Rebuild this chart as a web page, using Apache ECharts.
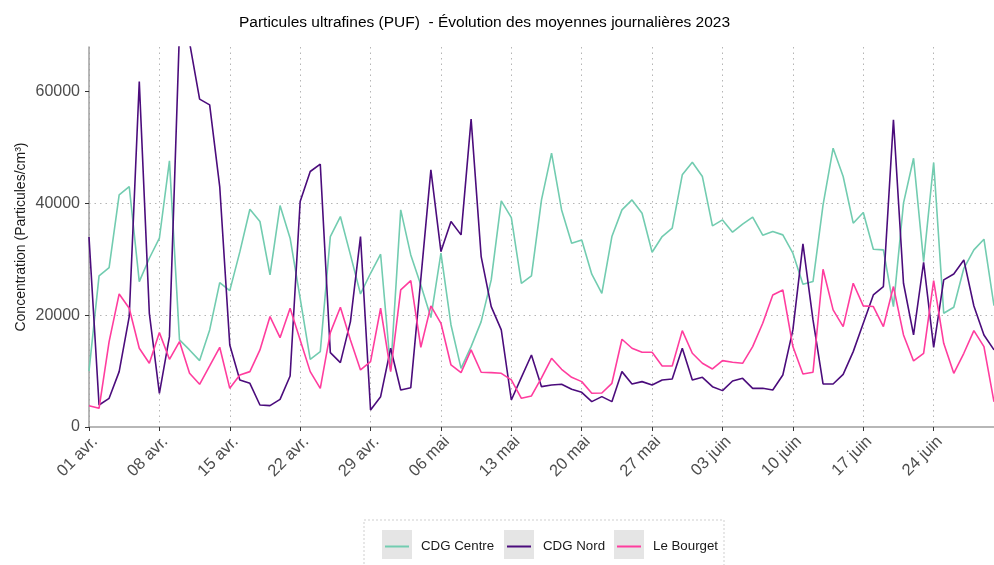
<!DOCTYPE html>
<html>
<head>
<meta charset="utf-8">
<script src="https://cdn.jsdelivr.net/npm/echarts@6/dist/echarts.min.js"></script>
<style>
  html, body { margin: 0; padding: 0; background: #fff; }
  #chart { width: 994px; height: 565px; }
</style>
</head>
<body>
<div id="chart"></div>
<script>
// jours du 01 avr. au 30 juin 2023
const debut = new Date(2023, 3, 1)
const nbJours = 91
const moisCourts = ['janv.', 'févr.', 'mars', 'avr.', 'mai', 'juin']

const noms = ['CDG Centre', 'CDG Nord', 'Le Bourget']
const couleurs = ['#72ccb0', '#4b0c7c', '#ff3d9e']

const yTicks = [0, 20000, 40000, 60000]

const cdgCentre = [
  10000, 27040, 28530, 41540, 43030, 26020, 30200, 33780, 47630, 15580,
  13790, 11880, 17370, 25840, 24410, 31330, 38970, 36770, 27220, 39630,
  33780, 23000, 12110, 13490, 34080, 37660, 30800, 23810, 27510, 30920,
  10200, 38850, 30800, 25420, 19580, 31100, 18260, 10500, 14390, 18860,
  26320, 40470, 37480, 25720, 27040, 40640, 49000, 38850, 32890, 33480,
  27340, 23930, 34080, 38850, 40640, 38260, 31270, 34080, 35570, 45120,
  47390, 44820, 35990, 37060, 34860, 36290, 37540, 34320, 34980, 34380,
  31100, 25540, 26020, 39750, 49900, 44820, 36470, 38380, 31810, 31690,
  21550, 40050, 48100, 29600, 47330, 20350, 21430, 28400, 31690, 33600,
  21700
]

const cdgNord = [
  34000, 3940, 5130, 9910, 19760, 61830, 20350, 6030, 16170, 71000,
  68800, 58670, 57650, 43030, 14680, 8420, 7820, 3940, 3820, 4950,
  9130, 40350, 45720, 47030, 13310, 11520, 18860, 34080, 3040, 5430,
  14090, 6630, 7040, 26500, 46020, 31390, 36770, 34380, 55090, 30500,
  21550, 17370, 4830, 8890, 12890, 7220, 7520, 7640, 6740, 6210,
  4540, 5430, 4540, 9910, 7700, 8120, 7520, 8420, 8590, 14090,
  8420, 8890, 7220, 6510, 8240, 8710, 6920, 6920, 6620, 9310,
  17370, 32770, 19160, 7700, 7700, 9430, 13490, 18560, 23630, 25130,
  54970, 25720, 16470, 29480, 14260, 26320, 27390, 29900, 21660, 16470,
  13800
]

const leBourget = [
  3820, 3340, 15280, 23810, 21250, 14090, 11400, 16890, 12110, 15280,
  9610, 7640, 10920, 14260, 6920, 9310, 9910, 13790, 19760, 15990,
  21250, 15580, 9910, 6920, 16890, 21430, 15580, 10210, 11700, 21250,
  9910, 24530, 26200, 14260, 21670, 18560, 11100, 9730, 13790, 9790,
  9730, 9610, 8420, 5130, 5550, 8800, 12290, 10320, 8890, 8120,
  6030, 6090, 7820, 15700, 14090, 13370, 13370, 10920, 10920, 17250,
  13190, 11400, 10390, 11880, 11580, 11400, 14390, 18560, 23630, 24530,
  14390, 9490, 9790, 28230, 20950, 17970, 25720, 21670, 21550, 17970,
  25130, 16470, 11820, 13190, 26200, 14980, 9610, 13190, 17250, 14390,
  4500
]

const valeurs = [cdgCentre, cdgNord, leBourget]

const jours = []
for (let i = 0; i < nbJours; i++) {
  const d = new Date(debut.getTime())
  d.setDate(debut.getDate() + i)
  jours.push(String(d.getDate()).padStart(2, '0') + ' ' + moisCourts[d.getMonth()])
}

const police = 'Liberation Sans, Arial, Helvetica, sans-serif'
const legendeX = [385, 507, 617]

const pointilles = { color: '#b5b5b5', width: 1, type: [1.5, 4] }

const option = {
  animation: false,
  textStyle: { fontFamily: police },
  title: {
    text: 'Particules ultrafines (PUF)  - Évolution des moyennes journalières 2023',
    left: 234,
    top: 10,
    textStyle: { fontFamily: police, fontSize: 15.5, fontWeight: 'normal', color: '#000' }
  },
  grid: { left: 89, top: 47, right: -7, bottom: 138, containLabel: false },
  xAxis: {
    type: 'category',
    data: jours,
    boundaryGap: false,
    axisLine: { lineStyle: { color: '#a0a0a0', width: 1.5 } },
    axisTick: { interval: 6, length: 4, lineStyle: { color: '#333' } },
    axisLabel: {
      interval: 6, rotate: 45, fontSize: 16.5, color: '#4d4d4d', margin: 6,
      verticalAlign: 'top', fontFamily: police
    },
    splitLine: { show: true, interval: 6, lineStyle: pointilles }
  },
  yAxis: {
    type: 'value',
    min: 0,
    max: 68000,
    interval: 20000,
    name: 'Concentration (Particules/cm³)',
    nameLocation: 'middle',
    nameGap: 61,
    nameMoveOverlap: false,
    nameTextStyle: { fontSize: 14, color: '#1a1a1a', fontFamily: police },
    axisLine: { show: true, lineStyle: { color: '#a0a0a0', width: 1.5 } },
    axisTick: { show: true, length: 4, customValues: yTicks, lineStyle: { color: '#333' } },
    axisLabel: {
      fontSize: 16, color: '#4d4d4d', margin: 9, customValues: yTicks, fontFamily: police,
      formatter: v => String(v)
    },
    splitLine: { show: true, showMinLine: false, showMaxLine: false, lineStyle: pointilles }
  },
  legend: noms.map((n, i) => ({
    data: [n],
    left: legendeX[i],
    top: 540,
    padding: 0,
    icon: 'rect',
    itemWidth: 24,
    itemHeight: 2,
    selectedMode: false,
    textStyle: { fontSize: 13.3, color: '#1a1a1a', fontFamily: police, padding: [0, 0, 0, 7] }
  })),
  graphic: [
    {
      type: 'rect', z: -10,
      shape: { x: 364, y: 520, width: 360, height: 60 },
      style: { fill: null, stroke: '#cfcfcf', lineWidth: 1, lineDash: [2, 2] }
    }
  ].concat(legendeX.map(x => ({
    type: 'rect', z: -5,
    shape: { x: x - 3, y: 530, width: 30, height: 29 },
    style: { fill: '#e5e5e5' }
  }))),
  series: noms.map((n, i) => ({
    name: n,
    type: 'line',
    data: valeurs[i],
    symbol: 'none',
    color: couleurs[i],
    lineStyle: { width: 1.6, color: couleurs[i] }
  }))
}

const chart = echarts.init(document.getElementById('chart'))
chart.setOption(option)
</script>
</body>
</html>
